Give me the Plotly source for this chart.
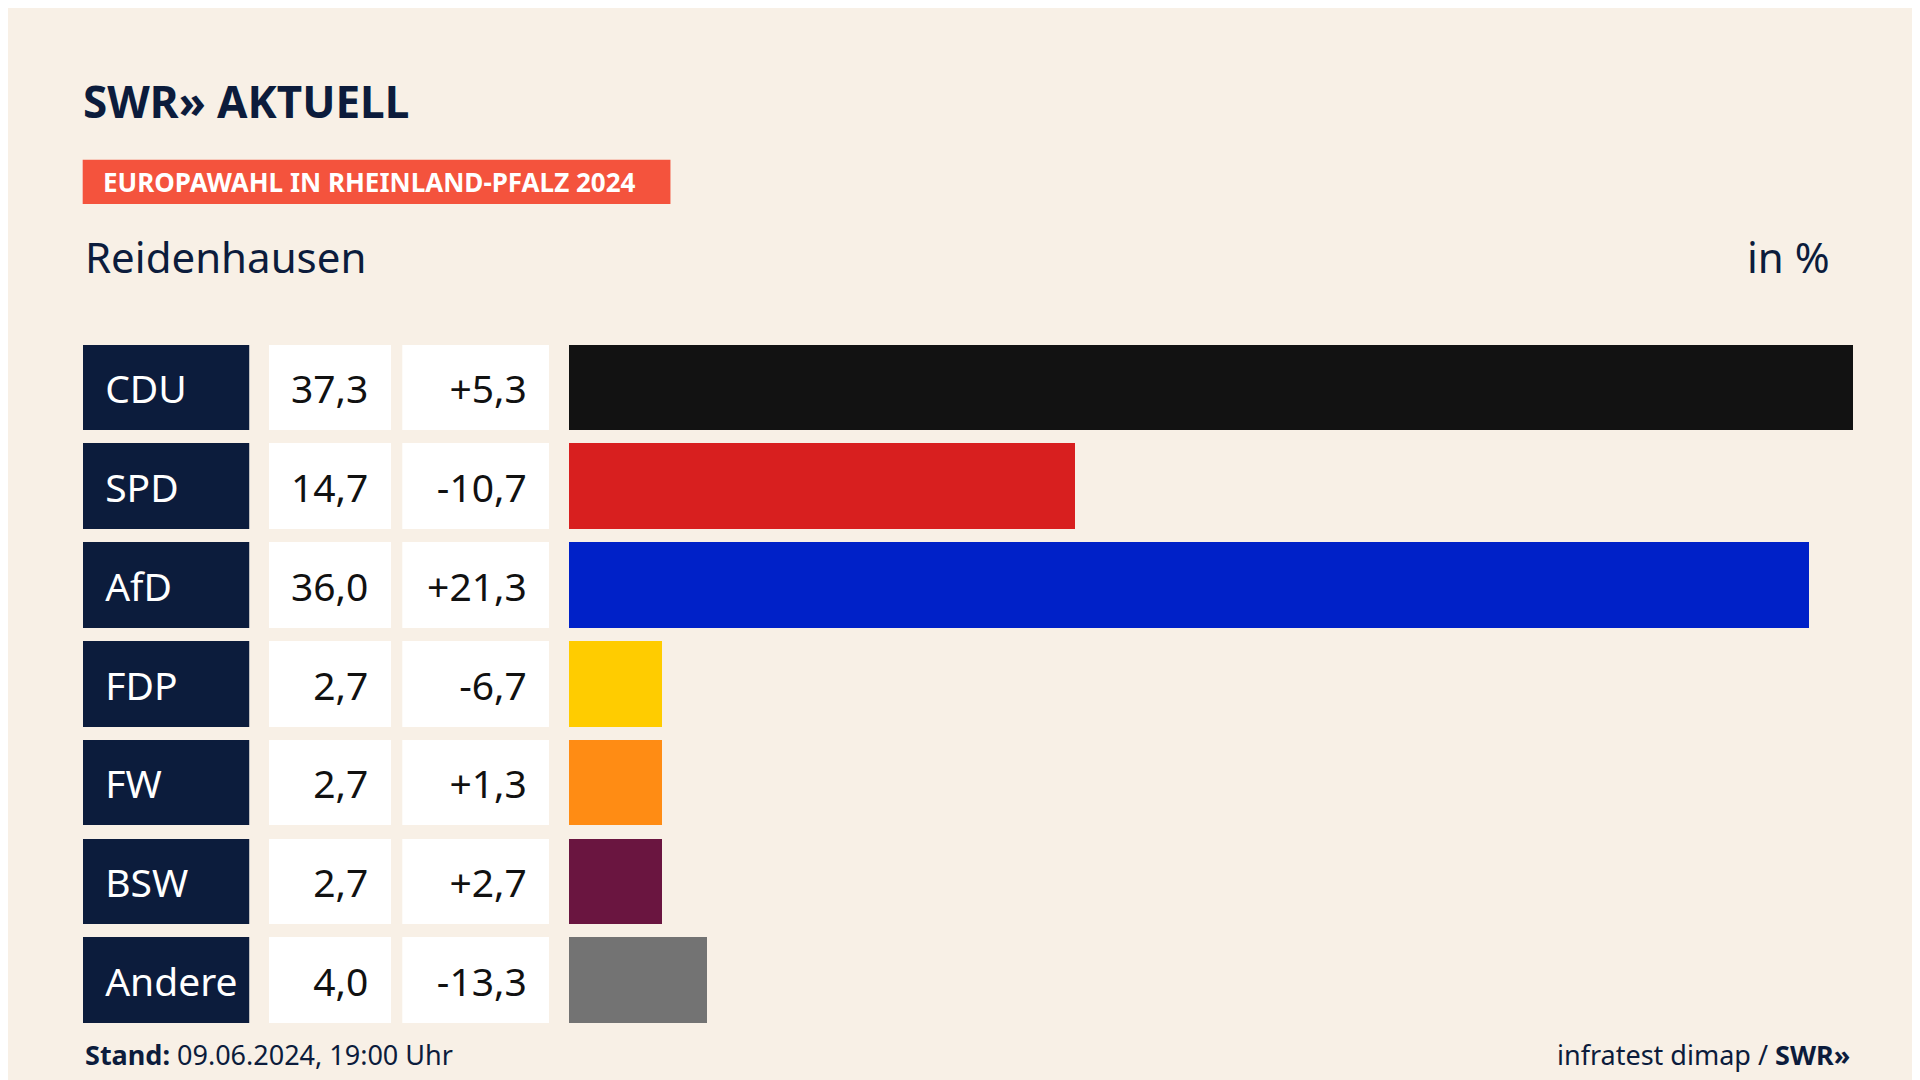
import plotly.graph_objects as go

parties = ["CDU", "SPD", "AfD", "FDP", "FW", "BSW", "Andere"]
shares = [37.3, 14.7, 36.0, 2.7, 2.7, 2.7, 4.0]
diffs = ["+5,3", "-10,7", "+21,3", "-6,7", "+1,3", "+2,7", "-13,3"]
colors = ["#121212", "#d81f1f", "#0021c8", "#ffcc00", "#ff8c14", "#6a1540", "#737373"]

NAVY = "#0c1c3c"
FONT = "Noto Sans"
W, H = 1568, 882
fx = lambda px: px / W
fy = lambda px: 1 - px / H
PAD = "\u2002"

def fmt(v):
    return f"{v:.1f}".replace(".", ",")

ydom = [fy(834.4), fy(269.6)]
fig = go.Figure()
cols = [
    ("x2", [PAD + p for p in parties], NAVY, "white", "start"),
    ("x3", [fmt(v) + PAD for v in shares], "white", "#111", "end"),
    ("x4", [d + PAD for d in diffs], "white", "#111", "end"),
]
for ax, txt, fill, tc, anchor in cols:
    fig.add_trace(go.Bar(x=[1] * len(parties), y=parties, orientation="h", xaxis=ax, yaxis="y",
                         marker=dict(color=fill, line_width=0), width=0.867,
                         text=txt, textposition="inside", insidetextanchor=anchor,
                         textfont=dict(family=FONT, size=39, color=tc),
                         hoverinfo="skip", showlegend=False))
fig.add_trace(go.Bar(x=shares, y=parties, orientation="h", xaxis="x", yaxis="y",
                     marker=dict(color=colors, line_width=0), width=0.867,
                     hoverinfo="skip", showlegend=False))

hidden = dict(showgrid=False, zeroline=False, showticklabels=False, showline=False,
              ticks="", fixedrange=True)
fig.update_layout(
    width=1920, height=1080, margin=dict(l=0, r=0, t=0, b=0),
    paper_bgcolor="#f8f0e6", plot_bgcolor="rgba(0,0,0,0)",
    bargap=0, font=dict(family=FONT),
    xaxis=dict(domain=[fx(458), fx(1507)], range=[0, 37.3], **hidden),
    xaxis2=dict(domain=[fx(61), fx(197)], range=[0, 1], anchor="y", **hidden),
    xaxis3=dict(domain=[fx(213), fx(313)], range=[0, 1], anchor="y", **hidden),
    xaxis4=dict(domain=[fx(322), fx(442)], range=[0, 1], anchor="y", **hidden),
    yaxis=dict(domain=ydom, autorange="reversed", categoryorder="array",
               categoryarray=parties, **hidden),
    shapes=[dict(type="rect", xref="paper", yref="paper", x0=fx(61), x1=fx(541),
                 y0=fy(160), y1=fy(124), fillcolor="#f4533d", line_width=0, layer="below")],
    annotations=[
        dict(text="<b>SWR» AKTUELL</b>", x=fx(60), y=fy(76), xref="paper", yref="paper",
             xanchor="left", yanchor="middle", showarrow=False,
             font=dict(family=FONT, size=44, color=NAVY)),
        dict(text="<b>EUROPAWAHL IN RHEINLAND-PFALZ 2024</b>", x=fx(76), y=fy(142),
             xref="paper", yref="paper", xanchor="left", yanchor="middle", showarrow=False,
             font=dict(family=FONT, size=26, color="white")),
        dict(text="Reidenhausen", x=fx(61), y=fy(203), xref="paper", yref="paper",
             xanchor="left", yanchor="middle", showarrow=False,
             font=dict(family=FONT, size=42, color=NAVY)),
        dict(text="in %", x=fx(1490), y=fy(203), xref="paper", yref="paper",
             xanchor="right", yanchor="middle", showarrow=False,
             font=dict(family=FONT, size=42, color=NAVY)),
        dict(text="<b>Stand:</b> 09.06.2024, 19:00 Uhr", x=fx(61), y=fy(855),
             xref="paper", yref="paper", xanchor="left", yanchor="middle", showarrow=False,
             font=dict(family=FONT, size=27, color=NAVY)),
        dict(text="infratest dimap / <b>SWR»</b>", x=fx(1506), y=fy(855),
             xref="paper", yref="paper", xanchor="right", yanchor="middle", showarrow=False,
             font=dict(family=FONT, size=27, color=NAVY)),
    ],
)
fig.write_html("out.html")
